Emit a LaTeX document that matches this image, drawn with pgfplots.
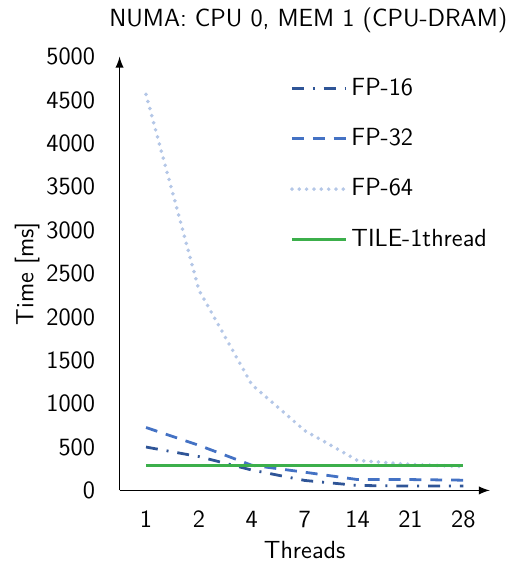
\documentclass[border=0pt]{standalone}
\usepackage{pgfplots}
\pgfplotsset{compat=1.18}
\renewcommand{\familydefault}{\sfdefault}
\definecolor{fpsixteen}{RGB}{47,85,151}
\definecolor{fpthirtytwo}{RGB}{68,114,196}
\definecolor{fpsixtyfour}{RGB}{180,199,231}
\definecolor{tilegreen}{RGB}{60,175,75}

\begin{document}
\fontsize{12.5}{15}\selectfont
\begin{tikzpicture}
\begin{axis}[
    scale only axis,
    width=186.5pt, height=218.5pt,
    axis lines=left,
    axis line style={line width=0.9pt, -latex},
    xmin=-0.5, xmax=6.5,
    ymin=0, ymax=5000,
    xtick={0,1,2,3,4,5,6},
    xticklabels={1,2,4,7,14,21,28},
    ytick={0,500,...,5000},
    major tick length=0pt,
    /pgf/number format/assume math mode=true,
    yticklabel style={/pgf/number format/1000 sep={}, xshift=-8pt},
    xticklabel style={yshift=-6pt},
    ticklabel style={font=\fontsize{12.5}{15}\selectfont},
    xlabel={Threads}, ylabel={Time [ms]},
    xlabel style={yshift=2pt},
    ylabel style={inner sep=7.5pt, yshift=-8.5pt},
    label style={font=\fontsize{12.5}{15}\selectfont},
    title={NUMA: CPU 0, MEM 1 (CPU-DRAM)},
    title style={font=\fontsize{12.5}{15}\selectfont, at={(0.51,1)}, anchor=south, yshift=1.5pt},
    legend style={at={(0.443,0.97)}, anchor=north west, draw=none, fill=none,
      font=\fontsize{12.5}{15}\selectfont, row sep=10.8pt, cells={anchor=west}},
    legend image code/.code={\draw[#1] (0pt,0pt) -- (27pt,0pt);},
]
\addplot[fpsixteen, line width=1.4pt, dash pattern=on 6pt off 4.5pt on 1pt off 4.5pt]
  coordinates {(0,500) (1,390) (2,235) (3,115) (4,57) (5,50) (6,50)};
\addplot[fpthirtytwo, line width=1.4pt, dash pattern=on 6pt off 4.5pt]
  coordinates {(0,725) (1,520) (2,290) (3,210) (4,125) (5,125) (6,118)};
\addplot[fpsixtyfour, line width=2pt, line cap=round, dash pattern=on 0pt off 3.7pt]
  coordinates {(0,4565) (1,2310) (2,1220) (3,690) (4,345) (5,300) (6,275)};
\addplot[tilegreen, line width=1.4pt]
  coordinates {(0,290) (1,290) (2,290) (3,290) (4,290) (5,290) (6,290)};
\legend{FP-16, FP-32, FP-64, TILE-1thread}
\end{axis}
\end{tikzpicture}
\end{document}
